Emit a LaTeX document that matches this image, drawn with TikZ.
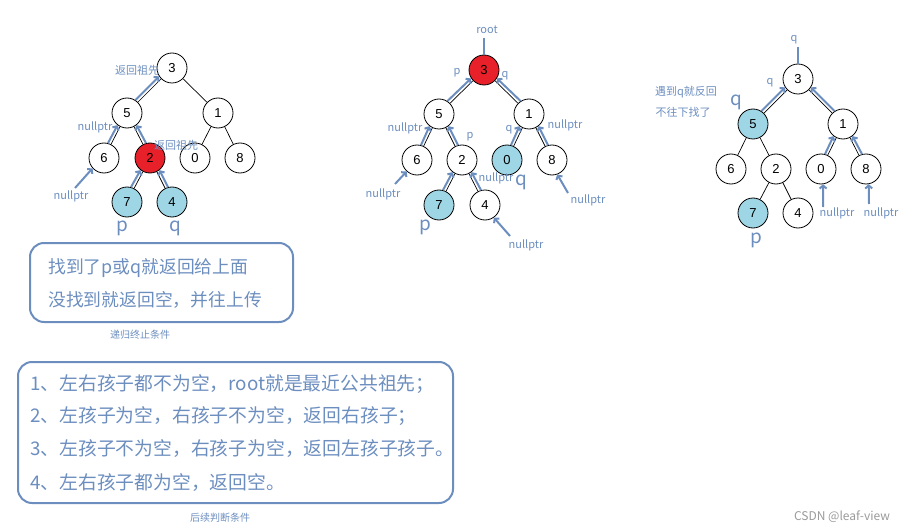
\documentclass[tikz,border=0pt]{standalone}
\usepackage{fontspec}
\setmainfont{Noto Sans CJK SC}
\newfontfamily\digitfont{Liberation Sans}
\usetikzlibrary{arrows.meta, positioning}
\definecolor{linkblue}{HTML}{6C8EBF}
\definecolor{hitred}{HTML}{E8202A}
\definecolor{hitblue}{HTML}{9ED6E6}
\definecolor{markgray}{HTML}{9A9A9A}
\tikzset{
  tnode/.style={circle, draw=black, line width=0.8pt, minimum size=30pt,
    inner sep=0pt, font=\digitfont\fontsize{13}{13}\selectfont},
  tedge/.style={draw=black, line width=0.7pt},
  ret/.style={draw=linkblue, line width=2pt,
    -{Straight Barb[length=3pt,width=7pt]}},
  rootline/.style={draw=linkblue, line width=2pt},
  tag/.style={text=linkblue, font=\fontsize{11}{11}\selectfont, inner sep=0pt},
  bigtag/.style={text=linkblue, font=\fontsize{19}{19}\selectfont, inner sep=0pt},
  notebox/.style={draw=linkblue, line width=2pt, rounded corners=14pt},
  noteline/.style={text=linkblue, font=\fontsize{17.8}{18}\selectfont,
    anchor=west, inner sep=0pt},
  caseline/.style={noteline, font=\fontsize{18.8}{19}\selectfont},
  caption/.style={text=linkblue, font=\fontsize{10}{10}\selectfont, inner sep=0pt}
}
\begin{document}
\begin{tikzpicture}[x=1pt, y=-1pt]
  \useasboundingbox (0,0) rectangle (913,532);

  % tree 1: p and q below 2
  \foreach \n/\x/\y/\f in {3/172/68/white, 5/127/113/white, 1/218/113/white,
      6/104/158/white, 2/150/158/hitred, 0/195/158/white, 8/240/158/white,
      7/127/202/hitblue, 4/172/202/hitblue} {
    \node[tnode, fill=\f] (a\n) at (\x,\y) {\n};
  }
  \foreach \u/\v in {3/5, 3/1, 5/6, 5/2, 1/0, 1/8, 2/7, 2/4}
    \draw[tedge] (a\u) -- (a\v);
  \draw[ret] (a5.57) -- (a3.213);
  \draw[ret] (a6.75) -- (a5.232);
  \draw[ret] (a2.105) -- (a5.308);
  \draw[ret] (a7.75) -- (a2.232);
  \draw[ret] (a4.105) -- (a2.308);
  \coordinate (an6) at (75,188);
  \draw[ret] (an6) -- (a6.222);
  \node[tag] (at1) at (137,70) {返回祖先};
  \node[tag] (at2) at (176,145) {返回祖先};
  \node[tag] (at3) at (95,127) {nullptr};
  \node[tag] (at4) at (71,196) {nullptr};
  \node[bigtag] (ap) at (122,228) {p};
  \node[bigtag] (aq) at (175,228) {q};

  % tree 2: p and q on both sides of root
  \foreach \n/\x/\y/\f in {3/484/70/hitred, 5/439/114/white, 1/529/114/white,
      6/417/160/white, 2/462/160/white, 0/507/160/hitblue, 8/552/160/white,
      7/439/205/hitblue, 4/485/205/white} {
    \node[tnode, fill=\f] (b\n) at (\x,\y) {\n};
  }
  \foreach \u/\v in {3/5, 3/1, 5/6, 5/2, 1/0, 1/8, 2/7, 2/4}
    \draw[tedge] (b\u) -- (b\v);
  \draw[ret] (b5.57) -- (b3.213);
  \draw[ret] (b1.123) -- (b3.327);
  \draw[ret] (b6.75) -- (b5.232);
  \draw[ret] (b2.105) -- (b5.308);
  \draw[ret] (b7.75) -- (b2.232);
  \draw[ret] (b4.105) -- (b2.308);
  \draw[ret] (b0.75) -- (b1.232);
  \draw[ret] (b8.105) -- (b1.308);
  \coordinate (broot) at (484,38);
  \draw[rootline] (broot) -- (b3.north);
  \coordinate (bn6) at (395,184);
  \coordinate (bn4) at (510,236);
  \coordinate (bn8) at (568,193);
  \draw[ret] (bn6) -- (b6.228);
  \draw[ret] (bn4) -- (b4.-55);
  \draw[ret] (bn8) -- (b8.-70);
  \node[tag] (bt0) at (487,30) {root};
  \node[tag] (bt1) at (457,73) {p};
  \node[tag] (bt2) at (505,76) {q};
  \node[tag] (bt3) at (405,128) {nullptr};
  \node[tag] (bt4) at (470,137) {p};
  \node[tag] (bt5) at (509,130) {q};
  \node[tag] (bt6) at (565,125) {nullptr};
  \node[tag] (bt7) at (496,178) {nullptr};
  \node[tag] (bt8) at (383,194) {nullptr};
  \node[tag] (bt9) at (526,245) {nullptr};
  \node[tag] (bt10) at (588,200) {nullptr};
  \node[bigtag] (bq) at (521,182) {q};
  \node[bigtag] (bp) at (425,227) {p};

  % tree 3: q above p
  \foreach \n/\x/\y/\f in {3/798/79/white, 5/753/124/hitblue, 1/843/124/white,
      6/731/169/white, 2/776/169/white, 0/821/169/white, 8/866/169/white,
      7/753/213/hitblue, 4/798/213/white} {
    \node[tnode, fill=\f] (c\n) at (\x,\y) {\n};
  }
  \foreach \u/\v in {3/5, 3/1, 5/6, 5/2, 1/0, 1/8, 2/7, 2/4}
    \draw[tedge] (c\u) -- (c\v);
  \draw[ret] (c5.57) -- (c3.213);
  \draw[ret] (c1.123) -- (c3.327);
  \draw[ret] (c0.75) -- (c1.232);
  \draw[ret] (c8.105) -- (c1.308);
  \coordinate (croot) at (798,47);
  \draw[rootline] (croot) -- (c3.north);
  \coordinate (cn0) at (823,207);
  \coordinate (cn8) at (869,204);
  \draw[ret] (cn0) -- (c0.-82);
  \draw[ret] (cn8) -- (c8.-80);
  \node[tag] (ct0) at (794,40) {q};
  \node[tag] (ct1) at (770,83) {q};
  \node[tag] (ct2) at (686,92) {遇到q就反回};
  \node[tag] (ct3) at (683,112) {不往下找了};
  \node[tag] (ct4) at (837,213) {nullptr};
  \node[tag] (ct5) at (881,213) {nullptr};
  \node[bigtag] (cq) at (736,102) {q};
  \node[bigtag] (cp) at (756,240) {p};

  % stop condition
  \draw[notebox] (30,243) rectangle (293,322);
  \node[noteline] (s1) at (48,268) {找到了p或q就返回给上面};
  \node[noteline] (s2) at (48,300) {没找到就返回空，并往上传};
  \node[caption] (scap) at (140,335) {递归终止条件};

  % post-order cases
  \draw[notebox] (18,362) rectangle (453,503);
  \node[caseline] (r1) at (30,384) {1、左右孩子都不为空，root就是最近公共祖先；};
  \node[caseline] (r2) at (30,416) {2、左孩子为空，右孩子不为空，返回右孩子；};
  \node[caseline] (r3) at (30,449) {3、左孩子不为空，右孩子为空，返回左孩子孩子。};
  \node[caseline] (r4) at (30,483) {4、左右孩子都为空，返回空。};
  \node[caption] (rcap) at (220,518) {后续判断条件};

  \node[text=markgray, font=\fontsize{12}{12}\selectfont, inner sep=0pt]
    (mark) at (842,517) {CSDN @leaf-view};
\end{tikzpicture}
\end{document}
